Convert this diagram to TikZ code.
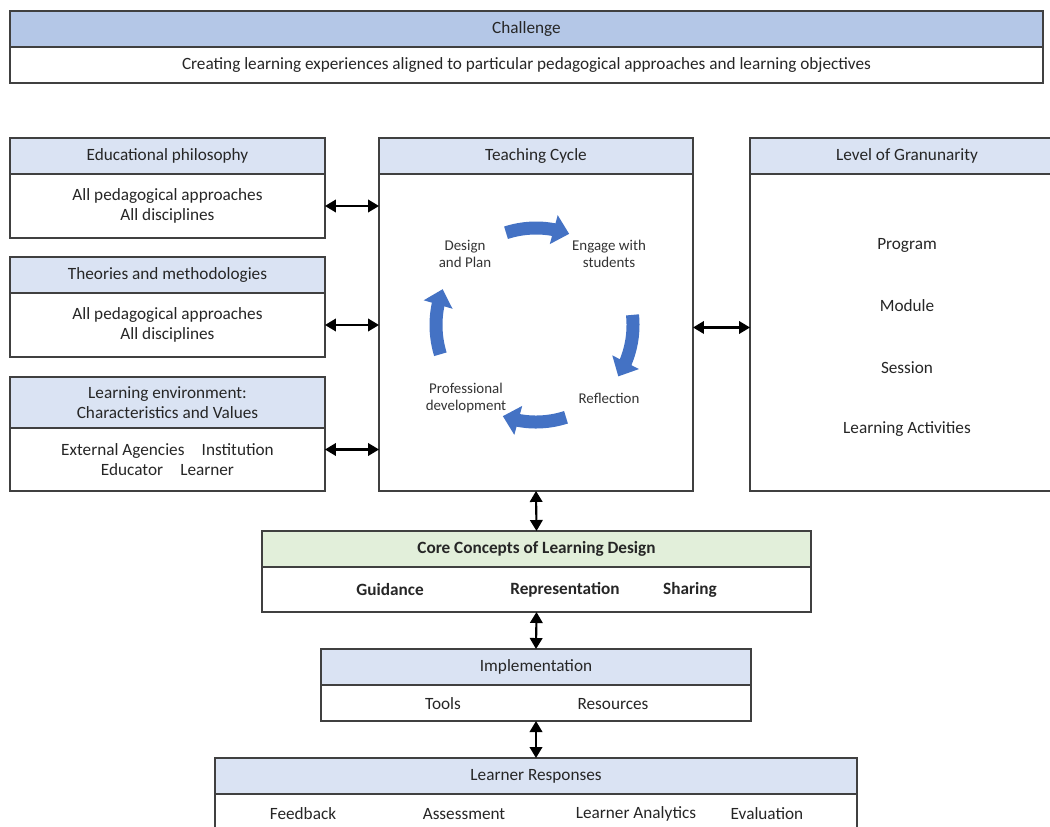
\documentclass[tikz,border=0pt]{standalone}
\usepackage{fontspec}
\setmainfont{Carlito}
\usetikzlibrary{arrows.meta, positioning, calc, bending}

\definecolor{hdrblue}{HTML}{B4C7E7}
\definecolor{hdrpale}{HTML}{DAE3F3}
\definecolor{hdrgreen}{HTML}{E2EFDA}
\definecolor{cycblue}{HTML}{4472C4}

\begin{document}
\begin{tikzpicture}[
		x=0.02cm, y=-0.02cm,
		% estilos de las cajas
		hdr/.style = {draw=black!75, fill=hdrpale, line width=0.8pt, rectangle, minimum height=0.72cm, inner sep=2pt, outer sep=0pt, align=center, font=\fontsize{9.8}{11.8}\selectfont, text=black!85},
		body/.style = {draw=black!75, fill=white, line width=0.8pt, rectangle, inner sep=2pt, outer sep=0pt, align=center, font=\fontsize{9.8}{11.8}\selectfont, text=black!85},
		item/.style = {inner sep=1pt, align=center, font=\fontsize{9.8}{11.8}\selectfont, text=black!85},
		cyclabel/.style = {inner sep=1pt, align=center, font=\fontsize{8.5}{9.6}\selectfont, text=black!80},
		cyc/.style = {draw=cycblue, line width=0.26cm, -{Triangle[width=0.58cm, length=0.32cm, flex]}},
		link/.style = {line width=1.2pt, {Triangle[width=0.25cm, length=0.22cm]}-{Triangle[width=0.25cm, length=0.22cm]}}
		]
		\useasboundingbox (0,0) rectangle (1050,826);
		\clip (0,0) rectangle (1050,826);
		
		% --- RETO ---
		\node [hdr, fill=hdrblue, minimum width=20.66cm] (chal) at (526.5,29) {Challenge};
		\node [body, minimum width=20.66cm, minimum height=0.72cm, below=0pt of chal] (chalb) {Creating learning experiences aligned to particular pedagogical approaches and learning objectives};
		
		% --- COLUMNA IZQUIERDA ---
		\node [hdr, minimum width=6.3cm] (edu) at (167.5,156) {Educational philosophy};
		\node [body, minimum width=6.3cm, minimum height=1.28cm, below=0pt of edu] (edub) {All pedagogical approaches\\All disciplines};
		
		\node [hdr, minimum width=6.3cm] (theo) at (167.5,275) {Theories and methodologies};
		\node [body, minimum width=6.3cm, minimum height=1.28cm, below=0pt of theo] (theob) {All pedagogical approaches\\All disciplines};
		
		\node [hdr, minimum width=6.3cm, minimum height=1.02cm] (env) at (167.5,402.5) {Learning environment:\\Characteristics and Values};
		\node [body, minimum width=6.3cm, minimum height=1.26cm, below=0pt of env] (envb) {External Agencies\quad Institution\\Educator\quad Learner};
		
		% --- CICLO DOCENTE ---
		\node [hdr, minimum width=6.28cm] (tc) at (536,156) {Teaching Cycle};
		\node [body, minimum width=6.28cm, minimum height=6.34cm, below=0pt of tc] (tcb) {};
		
		\coordinate (cc) at (536,325);
		\node [cyclabel] (dp) at (465,254) {Design\\and Plan};
		\node [cyclabel] (eng) at (609,254) {Engage with\\students};
		\node [cyclabel] (refl) at (609,398) {Reflection};
		\node [cyclabel] (prof) at (466,398) {Professional\\development};
		
		\draw [cyc] ($(cc)+(-108:97)$) arc [start angle=-108, end angle=-70, radius=97];
		\draw [cyc] ($(cc)+(-6:97)$) arc [start angle=-6, end angle=32, radius=97];
		\draw [cyc] ($(cc)+(72:97)$) arc [start angle=72, end angle=110, radius=97];
		\draw [cyc] ($(cc)+(163:100)$) arc [start angle=163, end angle=201, radius=100];
		
		% --- GRANULARIDAD ---
		\node [hdr, minimum width=6.28cm] (lv) at (907,156) {Level of Granunarity};
		\node [body, minimum width=6.28cm, minimum height=6.34cm, below=0pt of lv] (lvb) {};
		\node [item] (prog) at (907,245) {Program};
		\node [item] (mod) at (907,306) {Module};
		\node [item] (sess) at (907,368) {Session};
		\node [item] (lact) at (907,429) {Learning Activities};
		
		% --- CONCEPTOS CLAVE ---
		\node [hdr, fill=hdrgreen, minimum width=10.98cm, font=\fontsize{9.8}{11.8}\selectfont\bfseries] (core) at (536.5,549) {Core Concepts of Learning Design};
		\node [body, minimum width=10.98cm, minimum height=0.9cm, below=0pt of core] (coreb) {};
		\node [item, font=\fontsize{9.8}{11.8}\selectfont\bfseries] (guid) at (390,590) {Guidance};
		\node [item, font=\fontsize{9.8}{11.8}\selectfont\bfseries] (repr) at (565,590) {Representation};
		\node [item, font=\fontsize{9.8}{11.8}\selectfont\bfseries] (shar) at (690,590) {Sharing};
		
		% --- IMPLEMENTACION ---
		\node [hdr, minimum width=8.6cm] (impl) at (536,667) {Implementation};
		\node [body, minimum width=8.6cm, minimum height=0.72cm, below=0pt of impl] (implb) {};
		\node [item] (tools) at (443,704) {Tools};
		\node [item] (res) at (613,704) {Resources};
		
		% --- RESPUESTAS ---
		\node [hdr, minimum width=12.84cm] (lr) at (536,776) {Learner Responses};
		\node [body, minimum width=12.84cm, minimum height=0.92cm, below=0pt of lr] (lrb) {};
		\node [item] (feed) at (303,814) {Feedback};
		\node [item] (asse) at (464,814) {Assessment};
		\node [item] (lan) at (636,814) {Learner Analytics};
		\node [item] (eval) at (767,814) {Evaluation};
		
		% --- CONEXIONES ---
		\draw [link] (edub.east) -- (edub.east -| tcb.west);
		\draw [link] (theob.east) -- (theob.east -| tcb.west);
		\draw [link] ([yshift=0.2cm]envb.east) -- ([yshift=0.2cm]envb.east -| tcb.west);
		\draw [link] ([yshift=0.1cm]tcb.east) -- ([yshift=0.1cm]tcb.east -| lvb.west);
		\draw [link] (tcb.south) -- (core.north);
		\draw [link] (coreb.south) -- (impl.north);
		\draw [link] (implb.south) -- (lr.north);
		
\end{tikzpicture}
\end{document}
